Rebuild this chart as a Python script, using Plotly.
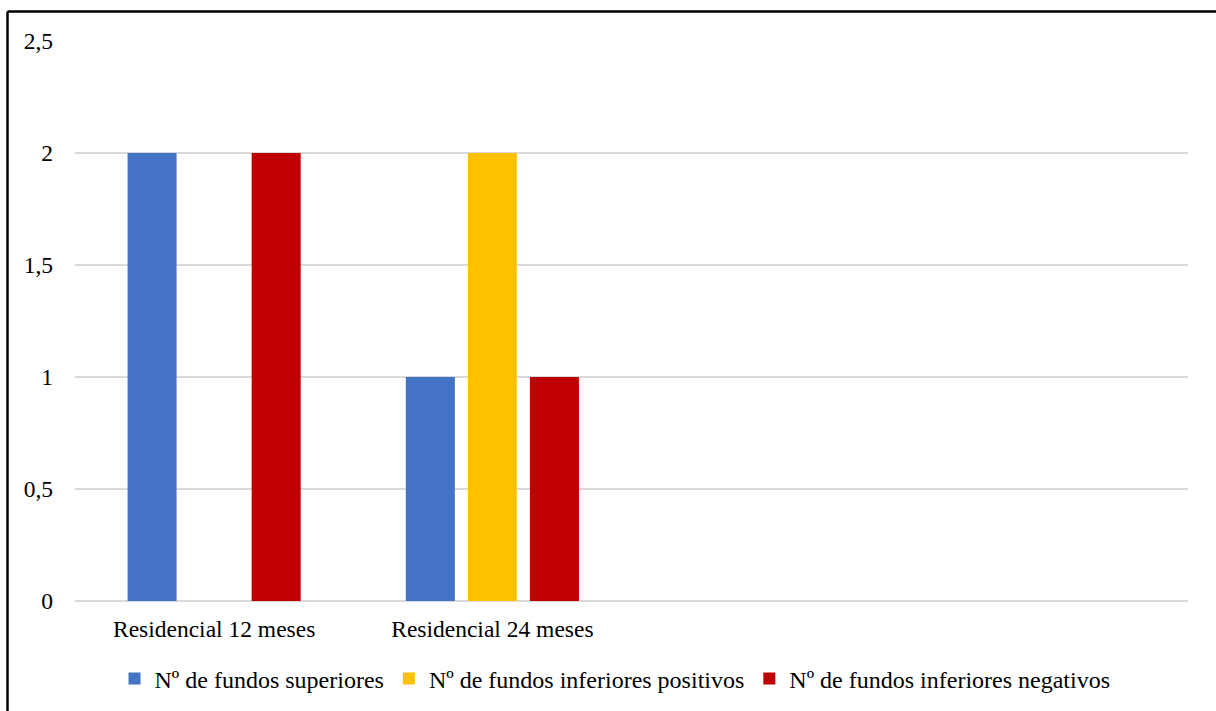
import plotly.graph_objects as go

categories = ["Residencial 12 meses", "Residencial 24 meses"]
positions = [0, 1]
series_names = ["Nº de fundos superiores", "Nº de fundos inferiores positivos", "Nº de fundos inferiores negativos"]
superiores = [2, 1]
inferiores_positivos = [0, 2]
inferiores_negativos = [2, 1]
colors = ["#4472C4", "#FFC000", "#C00000"]
y_ticks = [0, 0.5, 1, 1.5, 2, 2.5]

FONT = "Liberation Serif"

fig = go.Figure()
for name, vals, col in zip(series_names, [superiores, inferiores_positivos, inferiores_negativos], colors):
    fig.add_trace(go.Bar(x=positions, y=vals, name=name, marker=dict(color=col, line=dict(width=0))))

W, H = 1216, 711
L, R, T, B = 75, 28, 41, 110
pw, ph = W - L - R, H - T - B

def px_x(x):
    return (x - L) / pw

def px_y(y):
    return (H - B - y) / ph

fig.update_layout(
    width=W, height=H,
    margin=dict(l=L, r=R, t=T, b=B, autoexpand=False),
    paper_bgcolor="white", plot_bgcolor="white",
    separators=", ",
    barmode="group", bargap=0.331, bargroupgap=0.21,
    font=dict(family=FONT, size=23.5, color="#000000"),
    showlegend=True,
    legend=dict(orientation="h", x=px_x(615), xanchor="center", y=px_y(679), yanchor="middle",
                font=dict(family=FONT, size=24, color="#000000"), itemsizing="constant",
                traceorder="normal"),
    xaxis=dict(range=[-0.5, 3.5], tickvals=positions, ticktext=categories, showgrid=False,
               zeroline=False, showline=False, ticks="", ticklabelstandoff=11, automargin=False,
               tickfont=dict(family=FONT, size=23.5)),
    yaxis=dict(range=[0, 2.5], tickvals=y_ticks, showgrid=True, gridcolor="#d9d9d9", gridwidth=1.5,
               zeroline=True, zerolinecolor="#d9d9d9", zerolinewidth=1.5, showline=False,
               ticks="", ticklabelstandoff=21, automargin=False, tickfont=dict(family=FONT, size=23.5)),
    shapes=[
        dict(type="line", xref="paper", yref="paper", x0=px_x(7.5), x1=px_x(1230),
             y0=px_y(11.5), y1=px_y(11.5), line=dict(color="black", width=2.5)),
        dict(type="line", xref="paper", yref="paper", x0=px_x(7.5), x1=px_x(7.5),
             y0=px_y(11.5), y1=px_y(730), line=dict(color="black", width=2.5)),
    ],
)

fig.write_html("out.html")
